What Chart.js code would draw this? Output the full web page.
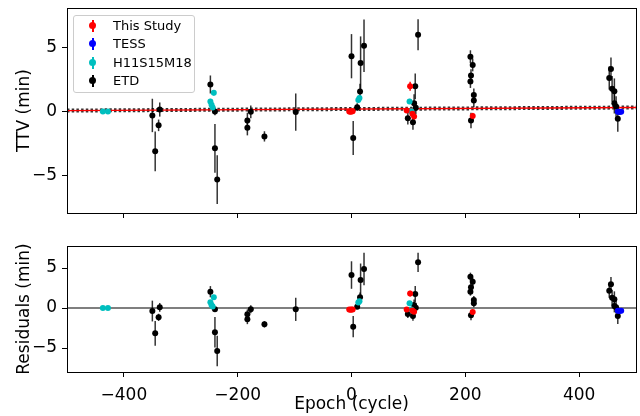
<!DOCTYPE html>
<html>
<head>
<meta charset="utf-8">
<script src="https://cdn.jsdelivr.net/npm/chart.js@4.4.1/dist/chart.umd.min.js"></script>
<style>
  body { margin: 0; background: #fff; font-family: "DejaVu Sans", sans-serif; }
  #wrap { position: relative; width: 640px; height: 416px; }
  #topPanel { position: absolute; left: 0; top: 0; }
  #botPanel { position: absolute; left: 0; top: 230px; }
  .legend {
    position: absolute; left: 73px; top: 15px; width: 120px; height: 76px;
    border: 1px solid #ccc; border-radius: 3px; background: rgba(255,255,255,0.8);
    font-size: 13px; color: #000;
  }
  .row { position: absolute; left: 0; height: 18px; line-height: 18px; }
  .mk { position: absolute; left: 15px; top: 0; width: 8px; height: 18px; }
  .mk i { position: absolute; left: 3px; top: 3px; width: 1.5px; height: 12px; }
  .mk b { position: absolute; left: 0; top: 5px; width: 7px; height: 7px; border-radius: 50%; }
  .lbl { position: absolute; left: 39px; top: 0; white-space: nowrap; }
</style>
</head>
<body>
<div id="wrap">
  <canvas id="topPanel" width="640" height="220" style="width:640px;height:220px"></canvas>
  <canvas id="botPanel" width="640" height="186" style="width:640px;height:186px"></canvas>
  <div class="legend" id="legend"></div>
</div>
<script>
// ---- data ----
const xTicks = [-400, -200, 0, 200, 400];
const yTicks = [-5, 0, 5];

// This Study (red)
const studyEpoch = [-4, -2, 0, 2, 97, 103, 107, 110, 213];
const studyTtv   = [0.0, -0.02, 0.0, 0.02, 0.08, 1.96, -0.18, -0.39, -0.36];
const studyRes   = [-0.2, -0.22, -0.2, -0.18, -0.2, 1.8, -0.3, -0.46, -0.5];
const studyErr   = [0.15, 0.15, 0.15, 0.15, 0.2, 0.35, 0.2, 0.25, 0.25];

// TESS (blue)
const tessEpoch = [468, 471, 474];
const tessTtv   = [-0.02, -0.05, -0.02];
const tessRes   = [-0.35, -0.38, -0.35];
const tessErr   = [0.15, 0.15, 0.15];

// H11S15M18 (cyan)
const h11Epoch = [-437, -428, -248, -246, -244, -242, 12, 14, 102, 105];
const h11Ttv   = [0.0, 0.0, 0.78, 0.52, 0.31, 1.45, 0.9, 1.05, 0.78, 0.02];
const h11Res   = [0.0, 0.0, 0.71, 0.37, 0.2, 1.33, 0.7, 0.85, 0.58, -0.2];
const h11Err   = [0.1, 0.1, 0.2, 0.2, 0.2, 0.2, 0.2, 0.2, 0.2, 0.2];

// ETD (black)
const etdEpoch = [-350, -345, -339, -337, -248, -240, -240, -236, -183, -183, -177, -153, -98,
                  0, 3, 10, 15, 16, 22, 99, 108, 110, 112, 113, 117,
                  209, 213, 210, 209, 215, 215, 210, 456, 453, 458, 462, 462, 465, 468];
const etdTtv   = [-0.31, -3.1, -1.08, 0.15, 2.1, 0.0, -2.87, -5.3, -0.7, -1.26, -0.03, -1.94, -0.05,
                  4.3, -2.07, 0.33, 1.55, 3.78, 5.12, -0.52, -0.83, 0.64, 1.96, 0.29, 5.97,
                  4.26, 3.62, 2.79, 2.33, 1.29, 0.85, -0.7, 3.3, 2.6, 1.76, 1.57, 0.64, 0.39, -0.57];
const etdRes   = [-0.38, -3.17, -1.17, 0.08, 2.04, -0.17, -3.04, -5.38, -0.79, -1.42, -0.17, -2.04, -0.17,
                  4.12, -2.33, 0.17, 1.33, 3.5, 4.87, -0.75, -1.0, 0.37, 1.75, 0.04, 5.71,
                  3.92, 3.29, 2.58, 2.04, 1.0, 0.58, -0.92, 2.96, 2.17, 1.29, 1.08, 0.25, 0.1, -1.0];
const etdErr   = [1.3, 1.55, 0.45, 0.55, 0.7, 0.3, 1.9, 1.9, 0.6, 0.6, 0.5, 0.4, 1.45,
                  1.72, 1.32, 0.3, 0.6, 2.06, 2.04, 0.5, 0.6, 0.7, 1.0, 0.5, 1.2,
                  0.5, 0.5, 0.5, 0.5, 0.5, 0.5, 0.6, 0.9, 0.9, 1.0, 1.0, 0.8, 0.8, 1.0];

// linear ephemeris model and residual baseline
const modelEpoch = [-500, 500];
const modelTtv   = [0.07, 0.31];
const zeroLine   = [0, 0];

const pts = (xs, ys) => xs.map((x, i) => ({ x, y: ys[i] }));
const minus = v => (v < 0 ? '\u2212' + Math.abs(v) : String(v));
const FONT = { family: 'DejaVu Sans', size: 17 };

const errorBars = {
  id: 'errorBars',
  beforeDatasetsDraw(chart) {
    const { ctx, chartArea: a, scales: { x, y } } = chart;
    ctx.save();
    ctx.beginPath();
    ctx.rect(a.left, a.top, a.right - a.left, a.bottom - a.top);
    ctx.clip();
    ctx.lineWidth = 1.5;
    chart.data.datasets.slice().reverse().forEach(ds => {
      if (!ds.errors) return;
      ctx.strokeStyle = ds.barColor;
      ds.data.forEach((p, i) => {
        const px = x.getPixelForValue(p.x);
        ctx.beginPath();
        ctx.moveTo(px, y.getPixelForValue(p.y - ds.errors[i]));
        ctx.lineTo(px, y.getPixelForValue(p.y + ds.errors[i]));
        ctx.stroke();
      });
    });
    ctx.restore();
  }
};

const frame = {
  id: 'frame',
  afterDraw(chart) {
    const { ctx, chartArea: a } = chart;
    ctx.save();
    ctx.strokeStyle = '#000';
    ctx.lineWidth = 1;
    ctx.strokeRect(Math.round(a.left) + 0.5, Math.round(a.top) + 0.5,
                   Math.round(a.right - a.left), Math.round(a.bottom - a.top));
    ctx.restore();
  }
};

function markerSet(label, xs, ys, errs, color, barColor, order) {
  return {
    label, data: pts(xs, ys), errors: errs, barColor,
    backgroundColor: color, borderColor: color, pointRadius: 3, pointBorderWidth: 0,
    pointHoverRadius: 3, order
  };
}

function makePanel(id, cfg) {
  const datasets = [
    markerSet('TESS', tessEpoch, cfg.tess, tessErr, '#0000ff', '#0000ff', 0),
    markerSet('This Study', studyEpoch, cfg.study, studyErr, '#ff0000', '#ff0000', 1),
    markerSet('H11S15M18', h11Epoch, cfg.h11, h11Err, '#00bfbf', '#00bfbf', 2),
    markerSet('ETD', etdEpoch, cfg.etd, etdErr, '#000000', 'rgba(0,0,0,0.8)', 3),
    ...cfg.lines
  ];
  return new Chart(document.getElementById(id), {
    type: 'scatter',
    data: { datasets },
    options: {
      responsive: false,
      animation: false,
      events: [],
      layout: { padding: cfg.padding },
      plugins: { legend: { display: false }, tooltip: { enabled: false } },
      scales: {
        x: {
          type: 'linear', min: -500, max: 500,
          afterBuildTicks: s => { s.ticks = xTicks.map(v => ({ value: v })); },
          afterFit: s => { s.height = cfg.xHeight; s.paddingLeft = 0; s.paddingRight = 0; },
          grid: { drawOnChartArea: false, drawTicks: true, tickLength: 5, color: '#000' },
          border: { display: false },
          ticks: { display: cfg.xLabels, padding: 8, color: '#000', font: FONT, callback: minus, maxRotation: 0 },
          title: { display: cfg.xLabels, text: 'Epoch (cycle)', color: '#000', font: FONT, padding: { top: 0, bottom: 1 } }
        },
        y: {
          type: 'linear', min: cfg.yMin, max: cfg.yMax,
          afterBuildTicks: s => { s.ticks = yTicks.map(v => ({ value: v })); },
          afterFit: s => { s.width = 67; s.paddingTop = 0; s.paddingBottom = 0; },
          grid: { drawOnChartArea: false, drawTicks: true, tickLength: 5, color: '#000' },
          border: { display: false },
          ticks: { padding: 5, color: '#000', font: FONT, callback: minus },
          title: { display: true, text: cfg.yTitle, color: '#000', font: FONT, padding: { top: 14, bottom: 0 } }
        }
      }
    },
    plugins: [errorBars, frame]
  });
}

makePanel('topPanel', {
  study: studyTtv, tess: tessTtv, h11: h11Ttv, etd: etdTtv,
  lines: [
    { data: pts(modelEpoch, modelTtv), showLine: true, pointRadius: 0, borderColor: '#ff0000', borderWidth: 1.3, order: 4 },
    { data: pts(modelEpoch, modelTtv), showLine: true, pointRadius: 0, borderColor: 'rgba(0,0,0,0.8)', borderWidth: 4, borderDash: [2.5, 2.2], order: 5 }
  ],
  padding: { top: 8, right: 4, left: 0, bottom: 0 },
  xHeight: 7, xLabels: false,
  yMin: -7.9, yMax: 8.05, yTitle: 'TTV (min)'
});

makePanel('botPanel', {
  study: studyRes, tess: tessRes, h11: h11Res, etd: etdRes,
  lines: [
    { data: pts(modelEpoch, zeroLine), showLine: true, pointRadius: 0, borderColor: '#000', borderWidth: 1.2, order: 4 }
  ],
  padding: { top: 16, right: 4, left: 0, bottom: 0 },
  xHeight: 44, xLabels: true,
  yMin: -8.0, yMax: 7.75, yTitle: 'Residuals (min)'
});

// legend (html, matplotlib style)
const legendItems = [['This Study', '#ff0000'], ['TESS', '#0000ff'], ['H11S15M18', '#00bfbf'], ['ETD', '#000000']];
const leg = document.getElementById('legend');
legendItems.forEach(([name, color], i) => {
  const row = document.createElement('div');
  row.className = 'row';
  row.style.top = (1 + i * 18.3) + 'px';
  row.innerHTML = '<span class="mk"><i style="background:' + color + '"></i><b style="background:' + color +
    '"></b></span><span class="lbl">' + name + '</span>';
  leg.appendChild(row);
});
</script>
</body>
</html>
